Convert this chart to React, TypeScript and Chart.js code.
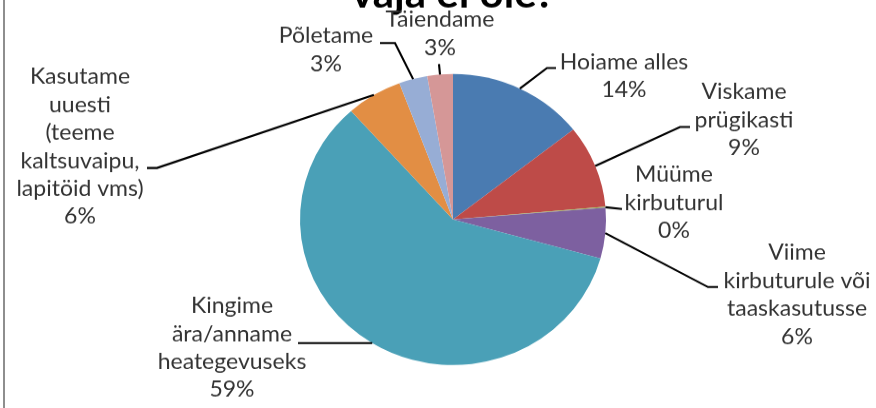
import React, { useEffect, useRef } from "react";
import { Chart, registerables } from "chart.js";

Chart.register(...registerables);

// ---- data ----
const categories = [
  "Hoiame alles",
  "Viskame prügikasti",
  "Müüme kirbuturul",
  "Viime kirbuturule või taaskasutusse",
  "Kingime ära/anname heategevuseks",
  "Kasutame uuesti (teeme kaltsuvaipu, lapitöid vms)",
  "Põletame",
  "Täiendame",
];
const values = [14.4, 9.2, 0.1, 5.6, 59.1, 5.9, 3.0, 2.7];
const titleText = "vaja ei ole?";

// wrapped label lines (as in the picture)
const labelLines = [
  ["Hoiame alles"],
  ["Viskame", "prügikasti"],
  ["Müüme", "kirbuturul"],
  ["Viime", "kirbuturule või", "taaskasutusse"],
  ["Kingime", "ära/anname", "heategevuseks"],
  ["Kasutame", "uuesti", "(teeme", "kaltsuvaipu,", "lapitöid vms)"],
  ["Põletame"],
  ["Täiendame"],
];

// ---- styles / layout ----
const colors = [
  "#4A7BB1",
  "#BE4B48",
  "#98B954",
  "#7D60A0",
  "#4AA0B7",
  "#E28E44",
  "#97ADD5",
  "#D59797",
];

const S = 0.951; // vertical squash of the picture
const SHIFT = 31;
const CANVAS_W = 876;
const CANVAS_H = 460;
const LINE = 29.4;

type LabelLayout = { tx: number; ty: number; path: [number, number][] };
// offsets relative to the pie centre (canvas units)
const labelLayout: LabelLayout[] = [
  { tx: 171, ty: -158.3, path: [[94, -159.3], [103, -159.3]] },
  { tx: 291, ty: -126.7, path: [[227, -97.3], [237, -97.3]] },
  { tx: 221, ty: -39.4, path: [[169, -11.0]] },
  { tx: 344, ty: 42.6, path: [[255, 71.0], [265, 71.0]] },
  { tx: -221, ty: 98.3, path: [[-155, 129.9]] },
  { tx: -373, ty: -142.5, path: [[-296, -54.2], [-306, -54.2]] },
  { tx: -127, ty: -185.6, path: [[-58, -185.6], [-73, -185.6]] },
  { tx: -13, ty: -202.4, path: [[-14, -163.5]] },
];

export default function App() {
  const ref = useRef<HTMLCanvasElement>(null);

  useEffect(() => {
    if (!ref.current) return;
    const total = values.reduce((a, b) => a + b, 0);
    const leaderPlugin = {
      id: "leaders",
      afterDatasetsDraw(chart: any) {
        const ctx = chart.ctx as CanvasRenderingContext2D;
        const meta = chart.getDatasetMeta(0);
        ctx.save();
        meta.data.forEach((arc: any, i: number) => {
          const p = arc.getProps(["x", "y", "startAngle", "endAngle", "outerRadius"], true);
          const mid = (p.startAngle + p.endAngle) / 2;
          const ax = p.x + Math.cos(mid) * p.outerRadius;
          const ay = p.y + Math.sin(mid) * p.outerRadius;
          const L = labelLayout[i];
          ctx.beginPath();
          ctx.moveTo(ax, ay);
          L.path.forEach(([dx, dy]) => ctx.lineTo(p.x + dx, p.y + dy));
          ctx.strokeStyle = "#000";
          ctx.lineWidth = 2.1;
          ctx.lineJoin = "miter";
          ctx.stroke();
          const lines = [...labelLines[i], Math.round((values[i] / total) * 100) + "%"];
          ctx.font = "23px Lato";
          ctx.fillStyle = "#333333";
          ctx.textAlign = "center";
          ctx.textBaseline = "alphabetic";
          lines.forEach((t, k) => ctx.fillText(t, p.x + L.tx, p.y + L.ty + k * LINE));
        });
        ctx.restore();
      },
    };

    const chart = new Chart(ref.current, {
      type: "pie",
      data: {
        labels: categories,
        datasets: [{ data: values, backgroundColor: colors, borderWidth: 0 }],
      },
      options: {
        responsive: false,
        animation: false,
        devicePixelRatio: 1,
        layout: { padding: { top: 0, left: 300, right: 270, bottom: 45.2 } },
        plugins: {
          legend: { display: false },
          tooltip: { enabled: false },
          title: {
            display: true,
            text: titleText,
            color: "#000",
            font: { family: "Lato", size: 42, weight: "bold", lineHeight: 1.2 },
            padding: { top: 0, bottom: 58.4 },
          },
        },
      },
      plugins: [leaderPlugin],
    } as any);
    return () => chart.destroy();
  }, []);

  return (
    <div
      style={{
        position: "fixed",
        left: 0,
        top: 0,
        width: 876,
        height: 408,
        overflow: "hidden",
        background: "#fff",
      }}
    >
      <div
        style={{
          position: "absolute",
          left: 0,
          top: 0,
          width: CANVAS_W,
          height: CANVAS_H,
          transform: `scaleY(${S}) translateY(${-SHIFT}px)`,
          transformOrigin: "0 0",
        }}
      >
        <canvas ref={ref} width={CANVAS_W} height={CANVAS_H} style={{ display: "block" }} />
      </div>
      <div
        style={{ position: "absolute", left: 3, top: 0, width: 2, height: 408, background: "#8e8e8e" }}
      />
    </div>
  );
}
